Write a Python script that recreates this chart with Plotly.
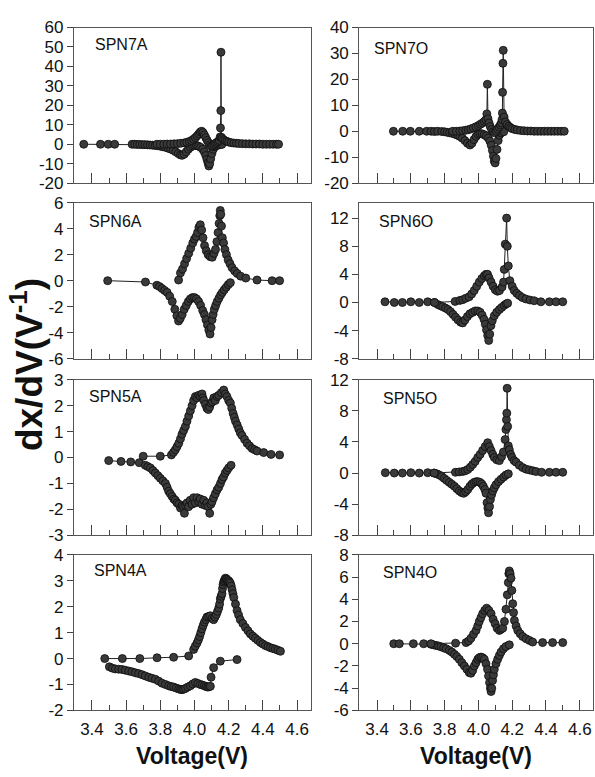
import plotly.graph_objects as go

# ---------------- data ----------------
panel_names = ["SPN7A", "SPN7O", "SPN6A", "SPN6O", "SPN5A", "SPN5O", "SPN4A", "SPN4O"]

x_ticks = [3.4, 3.6, 3.8, 4.0, 4.2, 4.4, 4.6]
x_tick_text = ["3.4", "3.6", "3.8", "4.0", "4.2", "4.4", "4.6"]

y_ticks_7a = [-20, -10, 0, 10, 20, 30, 40, 50, 60]
y_ticks_7o = [-20, -10, 0, 10, 20, 30, 40]
y_ticks_6a = [-6, -4, -2, 0, 2, 4, 6]
y_ticks_6o = [-8, -4, 0, 4, 8, 12]
y_ticks_5a = [-3, -2, -1, 0, 1, 2, 3]
y_ticks_5o = [-8, -4, 0, 4, 8, 12]
y_ticks_4a = [-2, -1, 0, 1, 2, 3, 4]
y_ticks_4o = [-6, -4, -2, 0, 2, 4, 6, 8]

y_range_7a = [-20, 60]
y_range_7o = [-20, 40]
y_range_6a = [-6, 6]
y_range_6o = [-8, 14.2]
y_range_5a = [-3, 3]
y_range_5o = [-8, 12]
y_range_4a = [-2, 4]
y_range_4o = [-6, 8]

# SPN7A
x7a_d = [3.352, 3.45, 3.495, 3.533, 3.635, 3.65, 3.665, 3.68, 3.695, 3.71, 3.725, 3.74, 3.755, 3.77, 3.785,
         3.80, 3.815, 3.83, 3.845, 3.86, 3.875, 3.89, 3.905, 3.918, 3.928, 3.94, 3.952, 3.964, 3.976, 3.988,
         4.0, 4.012, 4.024, 4.036, 4.048, 4.058, 4.066, 4.073, 4.079, 4.084, 4.089, 4.095, 4.102, 4.11, 4.12,
         4.132, 4.145, 4.16]
y7a_d = [0, 0, 0, 0, 0, 0, -0.1, -0.1, -0.2, -0.2, -0.3, -0.4, -0.5, -0.6, -0.8,
         -1.0, -1.3, -1.6, -2.0, -2.5, -3.1, -3.9, -4.8, -5.5, -5.7, -5.1, -3.9, -2.6, -1.6, -0.9,
         -0.6, -0.6, -1.0, -1.6, -2.6, -4.0, -5.8, -7.8, -9.6, -11.2, -10.0, -7.5, -4.8, -2.6, -1.3,
         -0.6, -0.3, -0.1]
x7a_c = [3.78, 3.80, 3.82, 3.84, 3.86, 3.88, 3.90, 3.92, 3.94, 3.955, 3.97, 3.982, 3.994, 4.005, 4.015,
         4.025, 4.034, 4.042, 4.05, 4.058, 4.066, 4.074, 4.082, 4.09, 4.098, 4.106, 4.114, 4.122, 4.13,
         4.138, 4.145, 4.15, 4.152, 4.154, 4.155, 4.157, 4.162, 4.17, 4.18, 4.19, 4.2, 4.215, 4.23, 4.245,
         4.26, 4.28, 4.30, 4.32, 4.34, 4.36, 4.38, 4.40, 4.42, 4.44, 4.46, 4.48, 4.492]
y7a_c = [0, 0, 0, 0.1, 0.1, 0.2, 0.3, 0.5, 0.7, 1.0, 1.4, 1.9, 2.6, 3.4, 4.3,
         5.3, 6.3, 6.7, 6.0, 4.8, 3.4, 2.0, 0.8, -0.3, -1.0, -0.8, -0.2, 0.4, 0.9,
         1.4, 2.0, 3.7, 8.4, 17.3, 47.3, 3.6, 2.9, 2.3, 1.8, 1.4, 1.1, 0.8, 0.6, 0.5,
         0.4, 0.3, 0.2, 0.2, 0.1, 0.1, 0.1, 0, 0, 0, 0, 0, 0]

# SPN7O
x7o_d = [3.497, 3.552, 3.597, 3.65, 3.694, 3.72, 3.74, 3.759, 3.783, 3.80, 3.815, 3.83, 3.845, 3.86,
         3.875, 3.89, 3.905, 3.92, 3.935, 3.95, 3.962, 3.974, 3.986, 3.998, 4.01, 4.022, 4.034, 4.046,
         4.058, 4.068, 4.076, 4.083, 4.089, 4.094, 4.099, 4.104, 4.11, 4.117, 4.124, 4.135, 4.15]
y7o_d = [0, 0, 0, 0, 0, 0, -0.1, 0, -0.1, -0.2, -0.4, -0.6, -0.8, -1.1,
         -1.5, -2.0, -2.7, -3.6, -4.6, -5.3, -4.6, -3.2, -2.0, -1.2, -0.9, -1.0, -1.3, -1.8,
         -2.6, -3.8, -5.4, -7.4, -9.6, -11.5, -12.2, -10.5, -7.0, -3.6, -1.5, -0.6, -0.2]
x7o_c = [3.848, 3.87, 3.89, 3.907, 3.925, 3.94, 3.955, 3.97, 3.985, 4.0, 4.012, 4.024, 4.035, 4.044,
         4.05, 4.053, 4.057, 4.063, 4.07, 4.078, 4.087, 4.096, 4.104, 4.113, 4.122, 4.13, 4.136, 4.14,
         4.142, 4.143, 4.145, 4.147, 4.152, 4.16, 4.17, 4.18, 4.19, 4.2, 4.215, 4.23, 4.25, 4.27, 4.29,
         4.31, 4.33, 4.35, 4.37, 4.39, 4.41, 4.43, 4.45, 4.47, 4.49, 4.508]
y7o_c = [0, 0, 0.1, 0.2, 0.4, 0.6, 0.9, 1.3, 1.7, 2.2, 2.7, 3.2, 3.8, 4.4,
         6.7, 18.1, 4.8, 3.2, 1.8, 0.7, -0.2, -0.6, 0, 0.8, 1.6, 2.4, 3.2, 4.5,
         7.0, 15.0, 26.2, 31.2, 5.5, 3.6, 2.6, 1.9, 1.4, 1.0, 0.7, 0.5, 0.3, 0.2, 0.1,
         0.1, 0, 0, 0, 0, 0, 0, 0, 0, 0, 0]

# SPN6A
x6a_d = [3.492, 3.713, 3.78, 3.795, 3.81, 3.825, 3.84, 3.855, 3.87, 3.885, 3.897, 3.907, 3.917, 3.928,
         3.94, 3.952, 3.964, 3.976, 3.988, 4.0, 4.012, 4.024, 4.036, 4.048, 4.058, 4.067, 4.076, 4.084,
         4.091, 4.097, 4.103, 4.109, 4.116, 4.124, 4.133, 4.143, 4.153, 4.163, 4.174, 4.186, 4.198, 4.21]
y6a_d = [0, -0.1, -0.35, -0.45, -0.6, -0.75, -0.9, -1.2, -1.6, -2.2, -2.7, -3.1, -2.9, -2.6,
         -2.2, -1.9, -1.6, -1.4, -1.3, -1.3, -1.4, -1.6, -1.9, -2.3, -2.6, -3.0, -3.4, -3.8,
         -4.1, -3.6, -3.0, -2.6, -2.2, -1.9, -1.6, -1.35, -1.1, -0.9, -0.7, -0.5, -0.3, -0.15]
x6a_c = [3.907, 3.918, 3.93, 3.942, 3.954, 3.966, 3.978, 3.99, 4.0, 4.01, 4.018, 4.026, 4.034, 4.042,
         4.05, 4.059, 4.069, 4.08, 4.092, 4.104, 4.114, 4.123, 4.131, 4.138, 4.144, 4.148, 4.151, 4.154,
         4.158, 4.163, 4.17, 4.178, 4.187, 4.197, 4.208, 4.22, 4.235, 4.25, 4.27, 4.3, 4.366, 4.454, 4.498]
y6a_c = [0.05, 0.6, 0.9, 1.3, 1.7, 2.1, 2.5, 2.9, 3.2, 3.4, 3.7, 4.1, 4.3, 3.9,
         3.3, 2.7, 2.3, 2.0, 1.85, 1.8, 2.1, 2.4, 3.0, 3.7, 4.4, 5.0, 5.4, 5.1,
         4.2, 3.3, 2.9, 2.4, 2.0, 1.6, 1.3, 1.0, 0.75, 0.55, 0.35, 0.2, 0.05, 0.0, 0.0]

# SPN6O
x6o_d = [3.447, 3.502, 3.55, 3.60, 3.65, 3.70, 3.74, 3.76, 3.775, 3.789, 3.805, 3.82, 3.835, 3.85,
         3.865, 3.88, 3.895, 3.907, 3.92, 3.935, 3.95, 3.966, 3.981, 3.996, 4.01, 4.022, 4.033, 4.041,
         4.048, 4.055, 4.061, 4.067, 4.074, 4.082, 4.094, 4.108, 4.124, 4.138, 4.153, 4.165, 4.173]
y6o_d = [0.1, 0, 0, 0.1, 0, 0.1, 0, -0.3, -0.45, -0.6, -0.8, -1.0, -1.3, -1.7,
         -2.1, -2.5, -2.8, -2.9, -2.5, -2.0, -1.6, -1.4, -1.2, -1.2, -1.4, -1.8, -2.4, -3.1,
         -3.9, -4.7, -5.4, -4.5, -3.3, -2.6, -1.9, -1.4, -1.0, -0.7, -0.4, -0.2, -0.1]
x6o_c = [3.74, 3.862, 3.89, 3.907, 3.925, 3.945, 3.96, 3.975, 3.99, 4.005, 4.02, 4.035, 4.045, 4.054,
         4.063, 4.075, 4.087, 4.1, 4.113, 4.125, 4.14, 4.149, 4.153, 4.159, 4.167, 4.171, 4.177, 4.186,
         4.2, 4.212, 4.227, 4.242, 4.26, 4.281, 4.305, 4.33, 4.37, 4.42, 4.459, 4.499]
y6o_c = [0, 0.15, 0.3, 0.4, 0.6, 0.8, 1.2, 1.7, 2.3, 2.9, 3.4, 3.8, 4.0, 4.0,
         3.5, 2.9, 2.3, 1.8, 1.6, 1.7, 2.2, 2.9, 4.7, 8.3, 12.0, 8.0, 5.2, 3.1,
         2.3, 1.7, 1.3, 1.0, 0.7, 0.5, 0.35, 0.25, 0.1, 0.1, 0.1, 0.1]

# SPN5A
x5a_d = [3.498, 3.57, 3.627, 3.677, 3.712, 3.727, 3.742, 3.757, 3.771, 3.786, 3.80, 3.815, 3.83, 3.84,
         3.849, 3.859, 3.869, 3.879, 3.888, 3.898, 3.908, 3.918, 3.927, 3.935, 3.941, 3.948, 3.956, 3.965,
         3.975, 3.986, 3.995, 4.005, 4.015, 4.025, 4.034, 4.044, 4.054, 4.064, 4.073, 4.081, 4.089, 4.096,
         4.103, 4.112, 4.122, 4.132, 4.142, 4.152, 4.161, 4.17, 4.18, 4.19, 4.2, 4.214]
y5a_d = [-0.12, -0.15, -0.17, -0.2, -0.3, -0.35, -0.4, -0.5, -0.6, -0.7, -0.8, -0.9, -1.0, -1.15,
         -1.3, -1.4, -1.5, -1.6, -1.65, -1.75, -1.8, -1.95, -1.85, -1.9, -2.15, -1.85, -1.75, -1.9,
         -1.65, -1.8, -1.55, -1.75, -1.55, -1.7, -1.6, -1.8, -1.65, -1.85, -1.75, -1.9, -2.15, -1.8,
         -1.7, -1.55, -1.4, -1.25, -1.15, -1.0, -0.85, -0.75, -0.6, -0.5, -0.4, -0.3]
x5a_c = [3.70, 3.80, 3.865, 3.877, 3.888, 3.898, 3.908, 3.918, 3.927, 3.937, 3.947, 3.956, 3.966, 3.976,
         3.986, 3.995, 4.005, 4.015, 4.025, 4.034, 4.044, 4.049, 4.054, 4.064, 4.073, 4.081, 4.089, 4.097,
         4.105, 4.113, 4.122, 4.132, 4.142, 4.157, 4.171, 4.18, 4.19, 4.2, 4.21, 4.218, 4.226, 4.233,
         4.24, 4.25, 4.259, 4.268, 4.278, 4.293, 4.308, 4.322, 4.337, 4.352, 4.366, 4.405, 4.448, 4.498]
y5a_c = [0.05, 0.05, 0.1, 0.2, 0.3, 0.42, 0.55, 0.72, 0.9, 1.05, 1.2, 1.4, 1.6, 1.8,
         2.0, 2.2, 2.35, 2.3, 2.4, 2.35, 2.45, 2.3, 2.2, 2.05, 1.9, 1.85, 1.95, 2.1,
         2.15, 2.3, 2.2, 2.35, 2.4, 2.5, 2.6, 2.45, 2.35, 2.2, 2.1, 1.9, 1.7, 1.55,
         1.4, 1.25, 1.1, 0.95, 0.85, 0.7, 0.55, 0.45, 0.35, 0.3, 0.25, 0.19, 0.12, 0.1]

# SPN5O
x5o_d = [3.449, 3.502, 3.55, 3.60, 3.65, 3.70, 3.738, 3.754, 3.769, 3.784, 3.798, 3.813, 3.828, 3.843,
         3.858, 3.872, 3.887, 3.9, 3.913, 3.925, 3.937, 3.95, 3.962, 3.974, 3.986, 3.998, 4.01, 4.02,
         4.029, 4.038, 4.045, 4.051, 4.056, 4.06, 4.066, 4.071, 4.078, 4.085, 4.094, 4.104, 4.119, 4.134,
         4.15, 4.163, 4.177]
y5o_d = [0.05, 0, 0, 0.05, 0, 0.05, 0, -0.1, -0.25, -0.45, -0.7, -0.95, -1.2, -1.45,
         -1.7, -2.0, -2.3, -2.5, -2.6, -2.4, -2.1, -1.7, -1.4, -1.2, -1.1, -1.1, -1.2, -1.4,
         -1.7, -2.1, -2.6, -3.8, -4.5, -5.1, -4.3, -3.4, -2.8, -2.3, -1.9, -1.5, -1.1, -0.8,
         -0.5, -0.25, -0.1]
x5o_c = [3.738, 3.864, 3.886, 3.907, 3.922, 3.937, 3.952, 3.966, 3.981, 3.996, 4.01, 4.025, 4.04, 4.055,
         4.065, 4.075, 4.085, 4.094, 4.109, 4.124, 4.137, 4.148, 4.158, 4.163, 4.166, 4.168, 4.17, 4.173,
         4.177, 4.183, 4.191, 4.199, 4.211, 4.223, 4.242, 4.262, 4.282, 4.302, 4.322, 4.341, 4.374, 4.42,
         4.459, 4.499]
y5o_c = [0, 0.1, 0.15, 0.2, 0.3, 0.45, 0.75, 1.1, 1.5, 2.0, 2.4, 2.9, 3.4, 3.9,
         3.4, 2.9, 2.4, 2.0, 1.7, 1.6, 2.1, 2.7, 4.3, 5.6, 6.85, 7.7, 10.9, 6.0,
         3.5, 3.0, 2.4, 2.0, 1.6, 1.4, 1.0, 0.7, 0.5, 0.4, 0.3, 0.2, 0.1, 0.1,
         0.1, 0.1]

# SPN4A
x4a_d = [3.502, 3.52, 3.537, 3.556, 3.576, 3.595, 3.615, 3.634, 3.654, 3.673, 3.693, 3.712, 3.732, 3.751,
         3.771, 3.79, 3.81, 3.83, 3.849, 3.864, 3.878, 3.893, 3.908, 3.918, 3.927, 3.937, 3.947, 3.961,
         3.976, 3.99, 4.005, 4.02, 4.034, 4.046, 4.058, 4.068, 4.077, 4.085, 4.093, 4.097, 4.112, 4.151,
         4.249]
y4a_d = [-0.32, -0.37, -0.4, -0.41, -0.42, -0.45, -0.48, -0.51, -0.55, -0.58, -0.62, -0.67, -0.72, -0.76,
         -0.8, -0.87, -0.95, -1.0, -1.05, -1.08, -1.1, -1.14, -1.17, -1.19, -1.2, -1.18, -1.15, -1.1,
         -1.05, -0.98, -0.92, -0.96, -1.0, -1.02, -1.05, -1.08, -1.1, -1.09, -1.07, -0.72, -0.35, -0.1,
         -0.04]
x4a_c = [3.475, 3.578, 3.68, 3.781, 3.878, 3.966, 3.995, 4.005, 4.015, 4.023, 4.03, 4.037, 4.044, 4.051,
         4.058, 4.066, 4.073, 4.083, 4.093, 4.103, 4.112, 4.12, 4.128, 4.135, 4.142, 4.147, 4.151, 4.156,
         4.161, 4.164, 4.167, 4.171, 4.174, 4.178, 4.181, 4.186, 4.19, 4.195, 4.2, 4.205, 4.21, 4.215,
         4.22, 4.225, 4.23, 4.24, 4.249, 4.258, 4.268, 4.283, 4.298, 4.313, 4.327, 4.342, 4.356, 4.371,
         4.386, 4.4, 4.415, 4.43, 4.444, 4.459, 4.473, 4.488, 4.503]
y4a_c = [0, 0, 0, 0.03, 0.05, 0.1, 0.35, 0.48, 0.6, 0.72, 0.85, 1.0, 1.15, 1.28,
         1.4, 1.5, 1.6, 1.62, 1.65, 1.55, 1.5, 1.6, 1.7, 1.82, 1.95, 2.1, 2.3, 2.4,
         2.5, 2.7, 2.85, 2.95, 3.0, 3.05, 3.1, 3.08, 3.05, 3.0, 3.0, 2.95, 2.9, 2.8,
         2.65, 2.5, 2.35, 2.1, 1.85, 1.68, 1.5, 1.35, 1.2, 1.07, 0.95, 0.86, 0.78, 0.7,
         0.62, 0.56, 0.5, 0.46, 0.42, 0.39, 0.36, 0.32, 0.28]

# SPN4O
x4o_d = [3.499, 3.532, 3.615, 3.676, 3.719, 3.734, 3.749, 3.764, 3.779, 3.794, 3.809, 3.828, 3.843, 3.858,
         3.872, 3.887, 3.902, 3.917, 3.932, 3.946, 3.956, 3.966, 3.976, 3.986, 3.996, 4.005, 4.015, 4.025,
         4.035, 4.045, 4.054, 4.06, 4.066, 4.071, 4.075, 4.079, 4.084, 4.089, 4.094, 4.104, 4.114, 4.124,
         4.134, 4.148, 4.163, 4.183]
y4o_d = [0, 0, 0, 0, -0.05, -0.1, -0.15, -0.2, -0.28, -0.36, -0.45, -0.6, -0.75, -0.95,
         -1.15, -1.4, -1.7, -2.0, -2.3, -2.6, -2.65, -2.4, -2.0, -1.7, -1.4, -1.25, -1.2, -1.25,
         -1.4, -1.8, -2.3, -2.9, -3.5, -4.0, -4.3, -4.0, -3.3, -2.8, -2.3, -1.8, -1.4, -1.05,
         -0.75, -0.45, -0.25, -0.1]
x4o_c = [3.719, 3.865, 3.927, 3.942, 3.956, 3.971, 3.986, 3.996, 4.005, 4.015, 4.025, 4.037, 4.049, 4.062,
         4.075, 4.087, 4.099, 4.111, 4.124, 4.134, 4.144, 4.154, 4.163, 4.171, 4.177, 4.18, 4.183, 4.188,
         4.193, 4.198, 4.203, 4.208, 4.213, 4.223, 4.233, 4.247, 4.262, 4.282, 4.302, 4.321, 4.38, 4.439,
         4.499]
y4o_c = [0, 0.05, 0.1, 0.25, 0.5, 0.85, 1.2, 1.6, 2.0, 2.35, 2.7, 3.0, 3.2, 3.0,
         2.7, 2.2, 1.8, 1.4, 1.2, 1.3, 1.4, 2.0, 3.1, 4.4, 5.5, 6.3, 6.55, 6.3,
         5.9, 4.8, 3.6, 2.8, 2.1, 1.6, 1.2, 0.9, 0.65, 0.45, 0.3, 0.15, 0.1, 0.1,
         0.1]

# ---------------- figure ----------------
W, H = 595, 777
FONT = "Liberation Sans, Arial, sans-serif"

panels = [
    (x7a_d, y7a_d, x7a_c, y7a_c, y_range_7a, y_ticks_7a),
    (x7o_d, y7o_d, x7o_c, y7o_c, y_range_7o, y_ticks_7o),
    (x6a_d, y6a_d, x6a_c, y6a_c, y_range_6a, y_ticks_6a),
    (x6o_d, y6o_d, x6o_c, y6o_c, y_range_6o, y_ticks_6o),
    (x5a_d, y5a_d, x5a_c, y5a_c, y_range_5a, y_ticks_5a),
    (x5o_d, y5o_d, x5o_c, y5o_c, y_range_5o, y_ticks_5o),
    (x4a_d, y4a_d, x4a_c, y4a_c, y_range_4a, y_ticks_4a),
    (x4o_d, y4o_d, x4o_c, y4o_c, y_range_4o, y_ticks_4o),
]

col_px = [(74.0, 310.7), (359.3, 593.3)]
row_px = [(19.0, 178.5), (198.5, 358.5), (380.0, 539.5), (559.5, 719.0)]
label_px = [(93, 36), (372, 40), (87, 218), (377, 218), (87, 397), (381, 399), (92, 576), (381, 578)]

fig = go.Figure()
layout = dict(
    width=W, height=H, autosize=False,
    margin=dict(l=0, r=0, t=0, b=0),
    paper_bgcolor="white", plot_bgcolor="white",
    showlegend=False,
    font=dict(family=FONT, color="#111"),
)
annotations = []

marker = dict(size=8, color="#3a3a3a", line=dict(color="#0d0d0d", width=0.8))
line = dict(color="#222", width=1)

for i, (xd, yd, xc, yc, yr, yt) in enumerate(panels):
    r, c = divmod(i, 2)
    ax = "" if i == 0 else str(i + 1)
    x0, x1 = col_px[c]
    t0, t1 = row_px[r]
    for xs, ys in ((xd, yd), (xc, yc)):
        fig.add_trace(go.Scatter(x=xs, y=ys, mode="lines+markers", marker=marker, line=line,
                                 xaxis="x" + ax, yaxis="y" + ax, hoverinfo="skip"))
    bottom = (r == 3)
    layout["xaxis" + ax] = dict(
        domain=[x0 / W, x1 / W], anchor="y" + ax, range=[3.295, 4.68],
        tickmode="array", tickvals=x_ticks, ticktext=x_tick_text,
        ticks="inside", ticklen=10, tickwidth=1, tickcolor="#444",
        minor=dict(tickmode="array", tickvals=[3.5, 3.7, 3.9, 4.1, 4.3, 4.5],
                   ticks="inside", ticklen=5, tickwidth=1, tickcolor="#444"),
        showticklabels=bottom, tickfont=dict(size=17, family=FONT, color="#111"),
        ticklabelstandoff=3,
        showline=True, linecolor="#555", linewidth=1.2, mirror=True,
        showgrid=False, zeroline=False, fixedrange=True,
    )
    layout["yaxis" + ax] = dict(
        domain=[1 - t1 / H, 1 - t0 / H], anchor="x" + ax, range=yr,
        tickmode="array", tickvals=yt, ticktext=[str(v) for v in yt],
        ticks="outside", ticklen=6, tickwidth=1, tickcolor="#444",
        tickfont=dict(size=17, family=FONT, color="#111"),
        showline=True, linecolor="#555", linewidth=1.2, mirror=True,
        showgrid=False, zeroline=False, fixedrange=True,
    )
    lx, ly = label_px[i]
    annotations.append(dict(text=panel_names[i], x=lx / W, y=1 - ly / H, xref="paper", yref="paper",
                            xanchor="left", yanchor="middle", showarrow=False,
                            font=dict(size=16, family=FONT, color="#111")))

for cx in ((col_px[0][0] + col_px[0][1]) / 2, (col_px[1][0] + col_px[1][1]) / 2):
    annotations.append(dict(text="<b>Voltage(V)</b>", x=cx / W, y=0, xref="paper", yref="paper",
                            xanchor="center", yanchor="bottom", yshift=-4, showarrow=False,
                            font=dict(size=23, family=FONT, color="#111")))

annotations.append(dict(text="<b>dx/dV(V<sup>-1</sup>)</b>", x=27 / W, y=1 - 365 / H, xref="paper", yref="paper",
                        xanchor="center", yanchor="middle", textangle=-90, showarrow=False,
                        font=dict(size=37, family=FONT, color="#111")))

layout["annotations"] = annotations
fig.update_layout(**layout)
fig.write_html("out.html")
